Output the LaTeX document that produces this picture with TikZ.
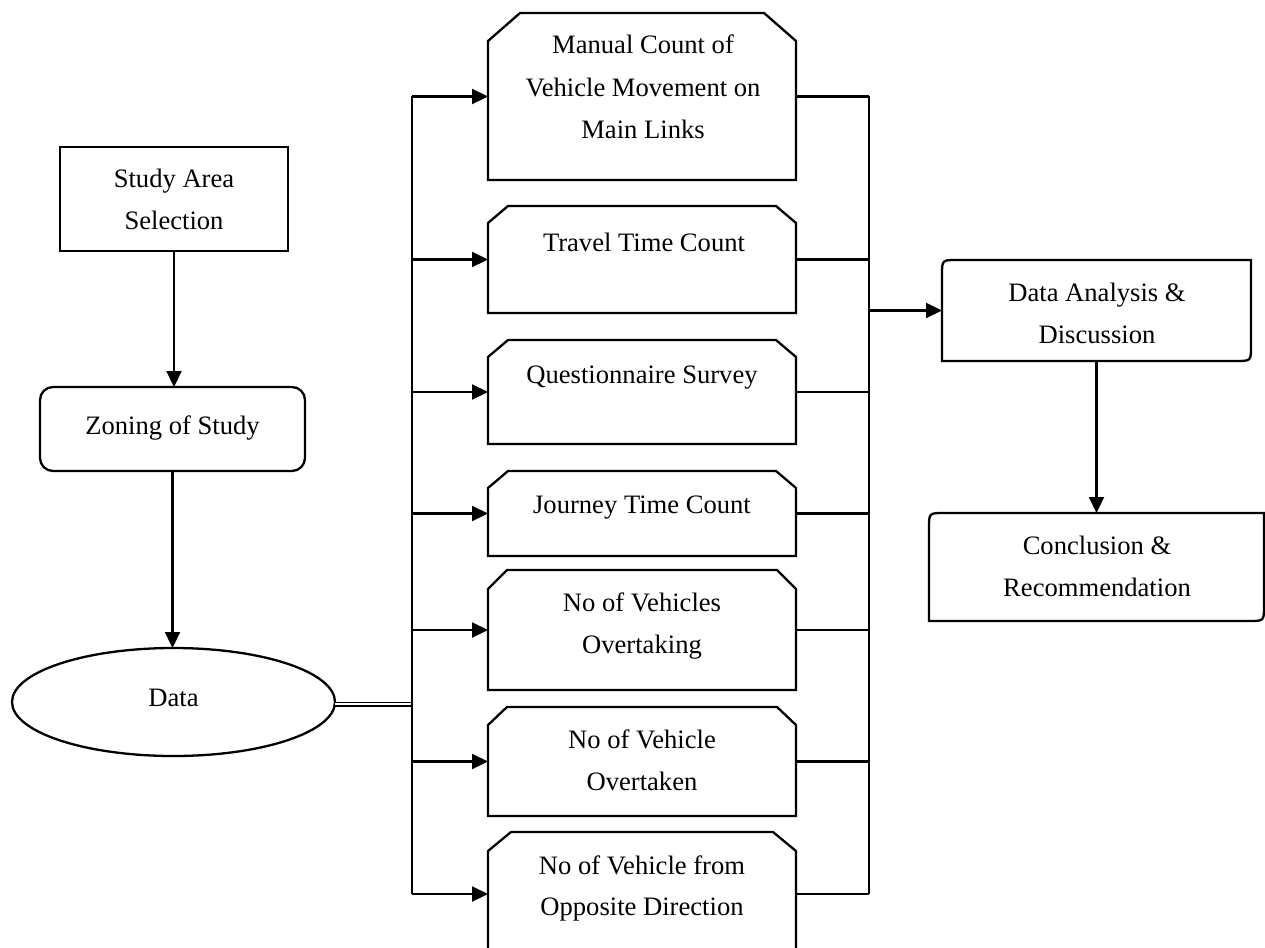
\documentclass[tikz,border=0pt]{standalone}
\usepackage{fontspec}
\setmainfont{Liberation Serif}
\usetikzlibrary{arrows.meta,shapes.geometric,calc}
\newcommand\chbox[3]{%
  \draw[lw] ([yshift=-#3pt]#1.north west) -- ([xshift=#2pt]#1.north west) -- ([xshift=-#2pt]#1.north east) -- ([yshift=-#3pt]#1.north east) -- (#1.south east) -- (#1.south west) -- cycle;}
\newcommand\halfround[2]{%
  \draw[lw] (#1.south west) -- ([yshift=-#2pt]#1.north west) .. controls (#1.north west) .. ([xshift=#2pt]#1.north west) -- (#1.north east) -- ([yshift=#2pt]#1.south east) .. controls (#1.south east) .. ([xshift=-#2pt]#1.south east) -- cycle;}
\begin{document}
\begin{tikzpicture}[x=1pt,y=-1pt,
  every node/.style={inner sep=0pt, outer sep=0pt},
  lw/.style={line width=2.3pt},
  txt/.style={font=\fontsize{26.6pt}{42pt}\selectfont, anchor=base},
  plainbox/.style={draw, lw, rectangle},
  roundbox/.style={draw, lw, rectangle, rounded corners=13pt},
  cbox/.style={rectangle, minimum width=308pt},
  oval/.style={draw, lw, ellipse, minimum width=323pt, minimum height=108pt},
  arr/.style={line width=2.2pt, -{Triangle[length=16pt,width=15pt]}},
  conn/.style={line width=2.2pt},
  bus/.style={line width=2.7pt},
  dbl/.style={double, double distance=1.8pt, line width=1.6pt}
]
\useasboundingbox (0,0) rectangle (1265,947);

% left column
\node[plainbox, minimum width=228pt, minimum height=104pt] (sa) at (174,199) {};
\node[roundbox, minimum width=265pt, minimum height=84pt] (zo) at (172.5,429) {};
\node[oval] (dc) at (173.5,702) {};

\node[txt] (tsa1) at (174,187) {Study Area};
\node[txt] (tsa2) at (174,229) {Selection};
\node[txt] (tzo) at (172.5,434) {Zoning of Study};
\node[txt] (tdc) at (173.5,706) {Data};

% middle boxes
\node[cbox, minimum height=167pt] (b1) at (642,96.5) {};
\node[cbox, minimum height=107pt] (b2) at (642,259.5) {};
\node[cbox, minimum height=104pt] (b3) at (642,392) {};
\node[cbox, minimum height=85pt] (b4) at (642,513.5) {};
\node[cbox, minimum height=120pt] (b5) at (642,630) {};
\node[cbox, minimum height=109pt] (b6) at (642,761.5) {};
\node[cbox, minimum height=124pt] (b7) at (642,894) {};
\chbox{b1}{32}{28}
\chbox{b2}{20}{17}
\chbox{b3}{20}{17}
\chbox{b4}{20}{17}
\chbox{b5}{19}{19}
\chbox{b6}{19}{18}
\chbox{b7}{23}{19}

\node[txt] (t1a) at (643,54) {Manual Count of};
\node[txt] (t1b) at (643,97) {Vehicle Movement on};
\node[txt] (t1c) at (643,138) {Main Links};
\node[txt] (t2) at (644,251) {Travel Time Count};
\node[txt] (t3) at (642,383) {Questionnaire Survey};
\node[txt] (t4) at (642,513) {Journey Time Count};
\node[txt] (t5a) at (642,611) {No of Vehicles};
\node[txt] (t5b) at (642,653) {Overtaking};
\node[txt] (t6a) at (642,748) {No of Vehicle};
\node[txt] (t6b) at (642,790) {Overtaken};
\node[txt] (t7a) at (642,874) {No of Vehicle from};
\node[txt] (t7b) at (642,915) {Opposite Direction};

% right column
\node[rectangle, minimum width=309pt, minimum height=101pt] (da) at (1096.5,310.5) {};
\node[rectangle, minimum width=335pt, minimum height=108pt] (cr) at (1096.5,567) {};
\halfround{da}{15}
\halfround{cr}{15}
\node[txt] (tda1) at (1097,301) {Data Analysis \&};
\node[txt] (tda2) at (1097,343) {Discussion};
\node[txt] (tcr1) at (1097,554) {Conclusion \&};
\node[txt] (tcr2) at (1097,596) {Recommendation};

% connectors
\draw[arr] (sa.south) -- (sa.south |- zo.north);
\draw[arr] (zo.south) -- (zo.south |- dc.north);

\coordinate (lbus) at (412,0);
\coordinate (rbus) at (869,0);
\draw[dbl] ([yshift=-2pt]dc.east) -- ([yshift=-2pt]lbus |- dc.east);
\draw[bus] (lbus |- b1.west) -- (lbus |- b7.west);
\foreach \b in {b1,b2,b3,b4,b5,b6,b7} {
  \draw[arr] (lbus |- \b.west) -- (\b.west);
  \draw[conn] (\b.east) -- (rbus |- \b.east);
}
\draw[bus] (rbus |- b1.east) -- (rbus |- b7.east);
\draw[arr] (rbus |- da.west) -- (da.west);
\draw[arr] (da.south) -- (da.south |- cr.north);
\end{tikzpicture}
\end{document}
